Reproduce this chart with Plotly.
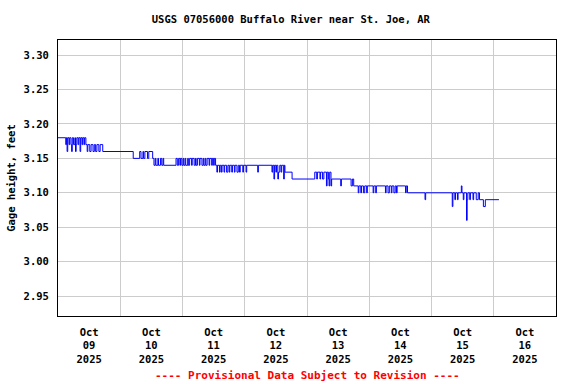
import pandas as pd
import plotly.graph_objects as go

# Breakpoints: hours since 2025-10-09 00:00 and gage height (ft) from that time on
hours = [0, 3.0, 3.25, 3.5, 3.75, 4.25, 4.5, 5.0, 5.25, 5.5, 6.0, 6.5, 6.75, 7.0, 7.25, 7.75, 8.0,
         8.5, 8.75, 9.25, 9.5, 10.0, 10.25, 10.75, 11.25, 11.5, 12.25, 12.75, 13.5, 14.0, 14.5,
         15.0, 15.75, 16.25, 17.25, 29.0, 31.5, 32.0, 32.75, 33.0, 33.5, 34.5, 35.0, 36.5,
         37.0, 37.5, 37.75, 38.5, 38.75, 39.5, 40.0, 40.5, 40.75, 45.5, 46.0, 46.5, 47.0, 47.25,
         47.75, 48.25, 48.5, 49.0, 49.25, 50.0, 50.25, 50.75, 51.5, 51.75, 52.5, 53.0, 53.25,
         53.75, 54.5, 54.75, 55.5, 56.0, 56.25, 56.75, 57.0, 57.5, 58.25, 58.5, 59.25, 59.5,
         60.0, 60.25, 60.75, 61.25, 61.5, 62.25, 62.5, 63.0, 63.25, 64.0, 64.25, 65.0, 65.5,
         66.0, 66.25, 67.0, 67.25, 68.0, 68.25, 69.0, 69.5, 70.0, 70.25, 71.25, 71.5, 72.5,
         72.75, 77.0, 77.25, 82.5, 82.75, 83.25, 83.5, 84.0, 84.25, 84.75, 85.0, 85.5, 86.0,
         86.25, 87.0, 87.25, 87.5, 90.25, 99.0, 99.75, 100.0, 101.0, 101.25, 102.0, 102.5,
         103.5, 103.75, 104.25, 104.5, 104.75, 105.25, 105.5, 109.0, 109.25, 113.0, 113.5,
         114.0, 115.75, 116.0, 116.75, 117.0, 117.75, 118.25, 119.0, 119.25, 121.5, 121.75,
         122.5, 122.75, 126.25, 126.5, 127.25, 127.75, 128.5, 128.75, 129.5, 130.0, 130.5,
         130.75, 134.0, 134.25, 134.75, 141.5, 141.75, 152.0, 152.25, 153.0, 153.25, 154.0,
         154.25, 155.5, 155.75, 156.25, 156.5, 157.5, 157.75, 158.0, 158.75, 159.0, 160.0,
         160.25, 161.25, 162.0, 162.5, 164.0, 164.75, 170.0]
gage_ft = [3.18, 3.17, 3.18, 3.16, 3.18, 3.17, 3.18, 3.17, 3.16, 3.18, 3.17, 3.18, 3.16, 3.17,
           3.18, 3.17, 3.18, 3.16, 3.18, 3.17, 3.18, 3.17, 3.18, 3.17, 3.16, 3.17, 3.16, 3.17,
           3.16, 3.17, 3.16, 3.17, 3.16, 3.17, 3.16, 3.15, 3.16, 3.15, 3.16, 3.15, 3.16, 3.15,
           3.16, 3.15, 3.14, 3.15, 3.14, 3.15, 3.14, 3.15, 3.14, 3.15, 3.14, 3.15, 3.14, 3.15,
           3.14, 3.15, 3.14, 3.15, 3.14, 3.15, 3.14, 3.15, 3.14, 3.15, 3.14, 3.15, 3.14, 3.15,
           3.14, 3.15, 3.14, 3.15, 3.14, 3.15, 3.14, 3.15, 3.14, 3.15, 3.14, 3.15, 3.14, 3.15,
           3.14, 3.15, 3.14, 3.13, 3.14, 3.13, 3.14, 3.13, 3.14, 3.13, 3.14, 3.13, 3.14, 3.13,
           3.14, 3.13, 3.14, 3.13, 3.14, 3.13, 3.14, 3.13, 3.14, 3.13, 3.14, 3.13, 3.14, 3.13,
           3.14, 3.13, 3.14, 3.12, 3.14, 3.13, 3.14, 3.12, 3.13, 3.14, 3.13, 3.14, 3.12, 3.14,
           3.13, 3.12, 3.13, 3.12, 3.13, 3.12, 3.13, 3.12, 3.13, 3.11, 3.13, 3.12, 3.11, 3.13,
           3.11, 3.12, 3.11, 3.12, 3.11, 3.12, 3.11, 3.10, 3.11, 3.10, 3.11, 3.10, 3.11, 3.10,
           3.11, 3.10, 3.11, 3.10, 3.11, 3.10, 3.11, 3.10, 3.11, 3.10, 3.11, 3.10, 3.11, 3.10,
           3.11, 3.10, 3.11, 3.10, 3.09, 3.10, 3.08, 3.10, 3.09, 3.10, 3.09, 3.10, 3.11, 3.10,
           3.09, 3.10, 3.06, 3.09, 3.10, 3.09, 3.10, 3.09, 3.10, 3.09, 3.10, 3.09, 3.08, 3.09,
           3.09]

day_labels = ["Oct<br>09<br>2025", "Oct<br>10<br>2025", "Oct<br>11<br>2025", "Oct<br>12<br>2025",
              "Oct<br>13<br>2025", "Oct<br>14<br>2025", "Oct<br>15<br>2025", "Oct<br>16<br>2025"]
day_starts = ["2025-10-09", "2025-10-10", "2025-10-11", "2025-10-12",
              "2025-10-13", "2025-10-14", "2025-10-15", "2025-10-16"]

title_text = "USGS 07056000 Buffalo River near St. Joe, AR"
ylabel = "Gage height, feet"
footer = "---- Provisional Data Subject to Revision ----"

base = pd.Timestamp("2025-10-09 00:00")
times = base + pd.to_timedelta(hours, unit="h")
label_pos = [pd.Timestamp(d) + pd.Timedelta(hours=12) for d in day_starts]

FONT = "DejaVu Sans Mono"

fig = go.Figure()
fig.add_trace(go.Scatter(x=times, y=gage_ft, mode="lines", line_shape="hv",
                         line=dict(color="#0000ff", width=1), showlegend=False))

fig.update_layout(
    width=576, height=384,
    margin=dict(l=58, r=20, t=40, b=68),
    paper_bgcolor="white", plot_bgcolor="white",
    title=dict(text="<b>" + title_text + "</b>", x=0.505, xref="container", y=1 - 19 / 384,
               yanchor="middle", font=dict(family=FONT, size=10.5, color="black")),
    font=dict(family=FONT, color="black"),
)
fig.update_xaxes(
    automargin=False,
    range=[pd.Timestamp("2025-10-09"), pd.Timestamp("2025-10-17")],
    tickvals=label_pos, ticktext=["<b>" + t.replace("<br>", "</b><br><b>") + "</b>" for t in day_labels],
    tickfont=dict(family=FONT, size=10.5, color="black"),
    showgrid=False, ticks="", ticklabelstandoff=6,
    showline=True, linecolor="black", linewidth=1, mirror=True,
    minor=dict(tick0="2025-10-09", dtick=86400000, showgrid=True, gridcolor="#cccccc", gridwidth=1, ticks=""),
    zeroline=False,
)
fig.update_yaxes(
    automargin=False,
    range=[2.921, 3.322], dtick=0.05, tick0=2.95, tickformat=".2f",
    tickfont=dict(family=FONT, size=10.5, color="black"),
    showgrid=True, gridcolor="#cccccc", gridwidth=1, ticks="", ticklabelstandoff=6,
    showline=True, linecolor="black", linewidth=1, mirror=True, zeroline=False,
    title=dict(text="<b>" + ylabel + "</b>", standoff=5, font=dict(family=FONT, size=10.5, color="black")),
    tickprefix="<b>", ticksuffix="</b>",
)
fig.add_annotation(text="<b>" + footer + "</b>", xref="paper", yref="paper",
                   x=0.5, y=-(375 - 316) / 276, yanchor="middle", showarrow=False,
                   font=dict(family=FONT, size=11, color="red"))

fig.write_html("out.html", config={"displayModeBar": False},
               post_script="document.body.style.margin='0';document.body.style.overflow='hidden';")
